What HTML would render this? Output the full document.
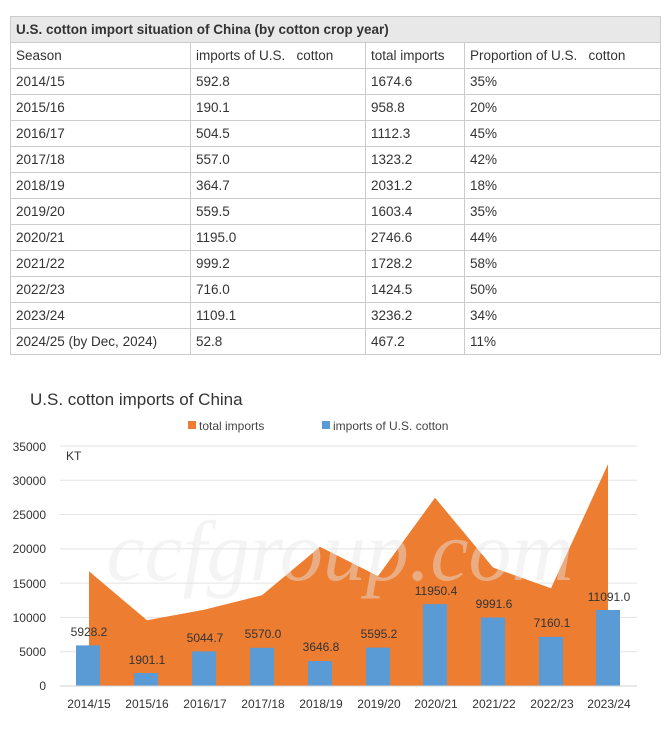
<!DOCTYPE html>
<html><head><style>
body{margin:0;background:#fff;width:670px;height:750px;overflow:hidden;font-family:"Liberation Sans",Arial,sans-serif}
table{position:absolute;left:10px;top:16px;border-collapse:collapse;width:651px;font-size:13.5px;color:#333}
td{border:1px solid #ccc;height:25px;padding:0 0 0 5px;}
.h td{background:#e8e8e8;font-weight:bold;}
</style></head><body>
<table>
<tr class="h"><td colspan="4">U.S. cotton import situation of China (by cotton crop year)</td></tr>
<tr><td style="width:174px">Season</td><td style="width:169px">imports of U.S.&nbsp;&nbsp; cotton</td><td style="width:93px">total imports</td><td>Proportion of U.S.&nbsp;&nbsp; cotton</td></tr>
<tr><td>2014/15</td><td>592.8</td><td>1674.6</td><td>35%</td></tr>
<tr><td>2015/16</td><td>190.1</td><td>958.8</td><td>20%</td></tr>
<tr><td>2016/17</td><td>504.5</td><td>1112.3</td><td>45%</td></tr>
<tr><td>2017/18</td><td>557.0</td><td>1323.2</td><td>42%</td></tr>
<tr><td>2018/19</td><td>364.7</td><td>2031.2</td><td>18%</td></tr>
<tr><td>2019/20</td><td>559.5</td><td>1603.4</td><td>35%</td></tr>
<tr><td>2020/21</td><td>1195.0</td><td>2746.6</td><td>44%</td></tr>
<tr><td>2021/22</td><td>999.2</td><td>1728.2</td><td>58%</td></tr>
<tr><td>2022/23</td><td>716.0</td><td>1424.5</td><td>50%</td></tr>
<tr><td>2023/24</td><td>1109.1</td><td>3236.2</td><td>34%</td></tr>
<tr><td>2024/25 (by Dec, 2024)</td><td>52.8</td><td>467.2</td><td>11%</td></tr>
</table>
<svg width="670" height="750" style="position:absolute;left:0;top:0" font-family="Liberation Sans, Arial, sans-serif">
<text x="30" y="405" font-size="17" fill="#333">U.S. cotton imports of China</text>
<rect x="188" y="421" width="8" height="8" fill="#ed7d31"/><text x="199" y="430" font-size="12" fill="#444">total imports</text>
<rect x="322" y="421" width="8" height="8" fill="#5b9bd5"/><text x="333" y="430" font-size="12" fill="#444">imports of U.S. cotton</text>
<g stroke="#e3e3e3" stroke-width="1">
<line x1="60" x2="637" y1="446" y2="446"/><line x1="60" x2="637" y1="480.3" y2="480.3"/><line x1="60" x2="637" y1="514.6" y2="514.6"/><line x1="60" x2="637" y1="548.9" y2="548.9"/><line x1="60" x2="637" y1="583.1" y2="583.1"/><line x1="60" x2="637" y1="617.4" y2="617.4"/><line x1="60" x2="637" y1="651.7" y2="651.7"/><line x1="60" x2="637" y1="686" y2="686"/>
</g>
<g font-size="12" fill="#333" text-anchor="end">
<text x="46" y="451">35000</text><text x="46" y="485">30000</text><text x="46" y="519">25000</text><text x="46" y="553">20000</text><text x="46" y="588">15000</text><text x="46" y="622">10000</text><text x="46" y="656">5000</text><text x="46" y="690">0</text>
</g>
<text x="66" y="460" font-size="12" fill="#333">KT</text>
<polygon fill="#ed7d31" points="89,686 89,571.2 147,620.3 204,609.7 262,595.3 320,546.7 378,576.1 435,497.7 493,567.5 551,588.3 608,464.1 608,686"/>
<text x="340" y="580" font-size="86" font-family="Liberation Serif, serif" font-style="italic" fill="#e6e6e6" fill-opacity="0.45" text-anchor="middle">ccfgroup.com</text>
<g fill="#5b9bd5">
<rect x="76" y="645.4" width="24" height="40.6"/><rect x="134" y="673" width="24" height="13"/><rect x="192" y="651.4" width="24" height="34.6"/><rect x="250" y="647.8" width="24" height="38.2"/><rect x="308" y="661" width="24" height="25"/><rect x="366" y="647.6" width="24" height="38.4"/><rect x="423" y="604.1" width="24" height="81.9"/><rect x="481" y="617.5" width="24" height="68.5"/><rect x="539" y="636.9" width="24" height="49.1"/><rect x="596" y="610" width="24" height="76"/>
</g>
<g font-size="12" fill="#333" text-anchor="middle">
<text x="89" y="636">5928.2</text><text x="147" y="664">1901.1</text><text x="205" y="642">5044.7</text><text x="263" y="638">5570.0</text><text x="321" y="651">3646.8</text><text x="379" y="638">5595.2</text><text x="436" y="595">11950.4</text><text x="494" y="608">9991.6</text><text x="552" y="627">7160.1</text><text x="609" y="601">11091.0</text>
</g>
<line x1="60" x2="637" y1="686" y2="686" stroke="#d0d0d0"/>
<g font-size="12" fill="#333" text-anchor="middle">
<text x="89" y="708">2014/15</text><text x="147" y="708">2015/16</text><text x="205" y="708">2016/17</text><text x="263" y="708">2017/18</text><text x="321" y="708">2018/19</text><text x="379" y="708">2019/20</text><text x="436" y="708">2020/21</text><text x="494" y="708">2021/22</text><text x="552" y="708">2022/23</text><text x="609" y="708">2023/24</text>
</g>
</svg>
</body></html>
